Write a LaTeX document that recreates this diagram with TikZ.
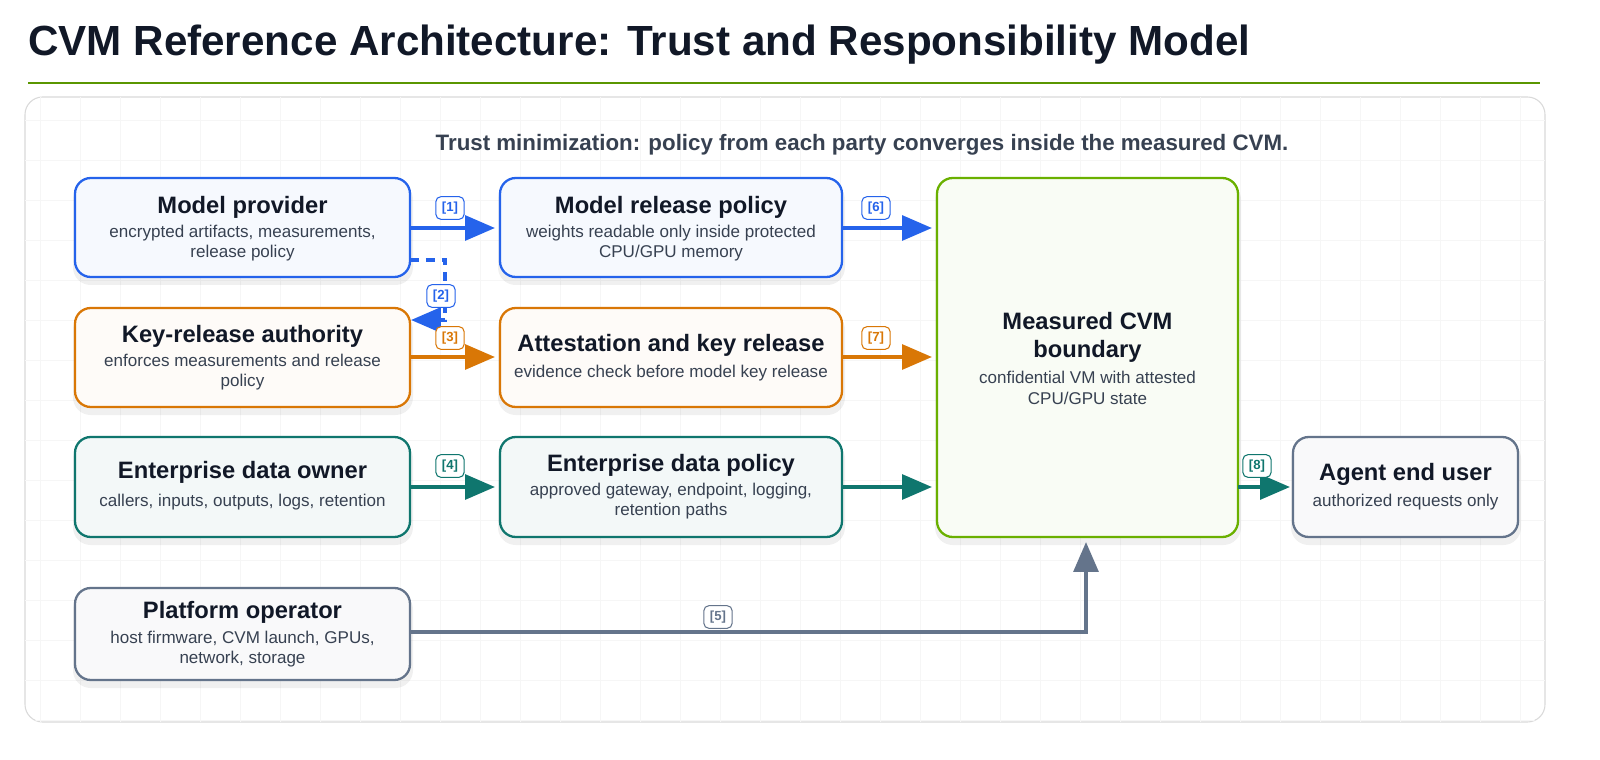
\documentclass[tikz,border=0pt]{standalone}
\usepackage{fontspec}
\setmainfont{Liberation Sans}
\usetikzlibrary{arrows.meta}
\definecolor{cblue}{HTML}{2563EB}
\definecolor{corange}{HTML}{D97706}
\definecolor{cteal}{HTML}{0F766E}
\definecolor{cslate}{HTML}{64748B}
\definecolor{cgreen}{HTML}{6AB000}
\definecolor{ink}{HTML}{111827}
\definecolor{sub}{HTML}{374151}
\begin{document}
\begin{tikzpicture}[x=0.02cm,y=-0.02cm,
  box/.style={draw=#1,line width=1.3pt,rounded corners=9pt},
  shd/.style={fill=black,opacity=0.06,rounded corners=10pt},
  ttl/.style={font=\bfseries\fontsize{13.5}{16}\selectfont,text=ink,align=center},
  dsc/.style={font=\fontsize{9.7}{11.5}\selectfont,text=sub,align=center},
  arr/.style={draw=#1,line width=2.3pt,-{Triangle[length=17pt,width=14pt]}},
  lab/.style={draw=#1,text=#1,fill=white,rounded corners=3pt,line width=0.6pt,
    font=\bfseries\fontsize{7.5}{8}\selectfont,inner xsep=3.5pt,inner ysep=3pt}]
\useasboundingbox (0,0) rectangle (1600,760);
\fill[white] (0,0) rectangle (1600,760);
\node[anchor=west,font=\bfseries\fontsize{24}{28}\selectfont,text=ink] (title) at (22,45) {CVM Reference Architecture: Trust and Responsibility Model};
\draw[cgreen!85!black,line width=1.2pt] (28,83) -- (1540,83);
\draw[gray!30,line width=0.6pt,rounded corners=10pt] (25,97) rectangle (1545,722);
\begin{scope}
\clip[rounded corners=10pt] (25,97) rectangle (1545,722);
\foreach \x in {40,80,...,1560} \draw[gray!7,line width=0.4pt] (\x,97) -- (\x,722);
\foreach \y in {120,160,...,720} \draw[gray!7,line width=0.4pt] (25,\y) -- (1545,\y);
\end{scope}
\node[font=\bfseries\fontsize{12.7}{14}\selectfont,text=sub] (subt) at (862,145) {Trust minimization: policy from each party converges inside the measured CVM.};

% shadows
\foreach \a/\b/\c/\d in {75/178/410/277,75/308/410/407,75/437/410/537,75/588/410/680,500/178/842/277,500/308/842/407,500/437/842/537,937/178/1238/537,1293/437/1518/537}
  \fill[shd] (\a-2,\b+4) rectangle (\c+3,\d+8);

% boxes
\path[box=cblue,fill=cblue!4] (75,178) rectangle (410,277);
\node[ttl] (mpT) at (242.5,207) {Model provider};
\node[dsc] (mpD) at (242.5,243) {encrypted artifacts, measurements,\\release policy};

\path[box=corange,fill=corange!3] (75,308) rectangle (410,407);
\node[ttl] (kT) at (242.5,336) {Key-release authority};
\node[dsc] (kD) at (242.5,372) {enforces measurements and release\\policy};

\path[box=cteal,fill=cteal!5] (75,437) rectangle (410,537);
\node[ttl] (eT) at (242.5,472) {Enterprise data owner};
\node[dsc] (eD) at (242.5,502) {callers, inputs, outputs, logs, retention};

\path[box=cslate,fill=cslate!4] (75,588) rectangle (410,680);
\node[ttl] (pT) at (242.5,612) {Platform operator};
\node[dsc] (pD) at (242.5,649) {host firmware, CVM launch, GPUs,\\network, storage};

\path[box=cblue,fill=cblue!4] (500,178) rectangle (842,277);
\node[ttl] (mrT) at (671,207) {Model release policy};
\node[dsc] (mrD) at (671,243) {weights readable only inside protected\\CPU/GPU memory};

\path[box=corange,fill=corange!3] (500,308) rectangle (842,407);
\node[ttl] (akT) at (671,345) {Attestation and key release};
\node[dsc] (akD) at (671,373) {evidence check before model key release};

\path[box=cteal,fill=cteal!5] (500,437) rectangle (842,537);
\node[ttl] (edT) at (671,465) {Enterprise data policy};
\node[dsc] (edD) at (671,501) {approved gateway, endpoint, logging,\\retention paths};

\path[box=cgreen,fill=cgreen!4] (937,178) rectangle (1238,537);
\node[ttl] (cT) at (1087.5,337) {Measured CVM\\boundary};
\node[dsc] (cD) at (1087.5,388) {confidential VM with attested\\CPU/GPU state};

\path[box=cslate,fill=cslate!4] (1293,437) rectangle (1518,537);
\node[ttl] (aT) at (1405.5,474) {Agent end user};
\node[dsc] (aD) at (1405.5,502) {authorized requests only};

% coordinates
\coordinate (a1s) at (410,228); \coordinate (a1e) at (495,228);
\coordinate (a2s) at (410,260); \coordinate (a2m) at (445,260); \coordinate (a2n) at (445,320); \coordinate (a2e) at (411,320);
\coordinate (a3s) at (410,357); \coordinate (a3e) at (495,357);
\coordinate (a4s) at (410,487); \coordinate (a4e) at (495,487);
\coordinate (a5s) at (410,632); \coordinate (a5m) at (1086,632); \coordinate (a5e) at (1086,542);
\coordinate (a6s) at (842,228); \coordinate (a6e) at (932,228);
\coordinate (a7s) at (842,357); \coordinate (a7e) at (932,357);
\coordinate (a9s) at (842,487); \coordinate (a9e) at (932,487);
\coordinate (a8s) at (1238,487); \coordinate (a8e) at (1290,487);

\draw[arr=cblue] (a1s) -- (a1e);
\draw[arr=cblue,dash pattern=on 5pt off 4pt] (a2s) -- (a2m) -- (a2n) -- (a2e);
\draw[arr=corange] (a3s) -- (a3e);
\draw[arr=cteal] (a4s) -- (a4e);
\draw[arr=cslate] (a5s) -- (a5m) -- (a5e);
\draw[arr=cblue] (a6s) -- (a6e);
\draw[arr=corange] (a7s) -- (a7e);
\draw[arr=cteal] (a9s) -- (a9e);
\draw[arr=cteal] (a8s) -- (a8e);

\node[lab=cblue] (l1) at (450,208) {[1]};
\node[lab=cblue] (l2) at (441,296) {[2]};
\node[lab=corange] (l3) at (450,338) {[3]};
\node[lab=cteal] (l4) at (450,466) {[4]};
\node[lab=cslate] (l5) at (718,617) {[5]};
\node[lab=cblue] (l6) at (876,208) {[6]};
\node[lab=corange] (l7) at (876,338) {[7]};
\node[lab=cteal] (l8) at (1257,466) {[8]};
\end{tikzpicture}
\end{document}
